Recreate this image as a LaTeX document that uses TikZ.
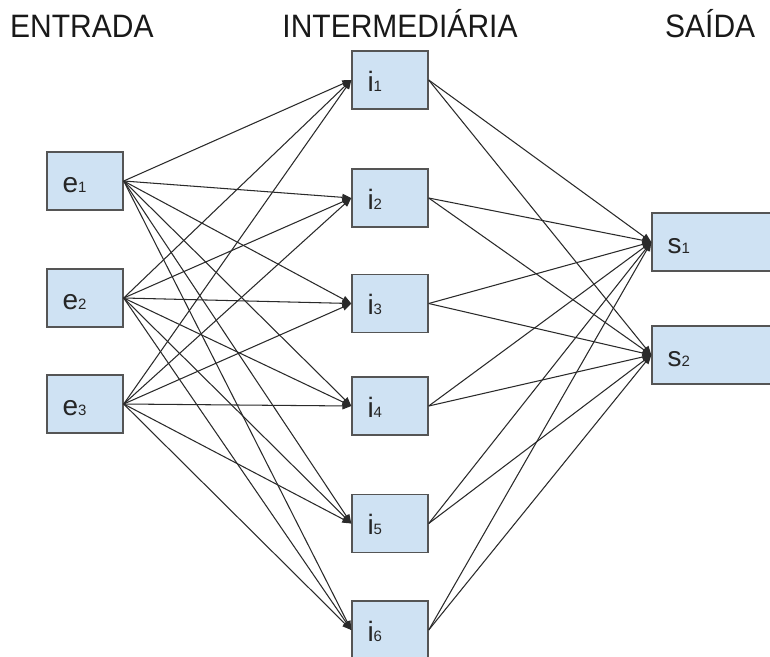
\documentclass[tikz,border=0pt]{standalone}
\usepackage{fontspec}
\setmainfont{Liberation Sans}
\usetikzlibrary{arrows.meta}
\definecolor{boxfill}{HTML}{CFE2F3}
\definecolor{boxline}{HTML}{555555}
\definecolor{edgecol}{HTML}{2A2A2A}
\newcommand\lab[2]{#1{\fontsize{15}{16}\selectfont #2}}
\begin{document}
\begin{tikzpicture}[x=1pt,y=-1pt,
  unit/.style={draw=boxline, fill=boxfill, line width=1.4pt, minimum width=76pt, minimum height=58pt, inner sep=0pt},
  outunit/.style={unit, minimum width=150pt},
  lbl/.style={anchor=base west, inner sep=0pt, font=\fontsize{28}{30}\selectfont, text=black!85},
  head/.style={anchor=base west, inner sep=0pt, font=\fontsize{30}{32}\selectfont, text=black!90, yscale=1.08},
  conn/.style={draw=edgecol, line width=1.05pt, -{Triangle[length=9pt,width=7pt]}}
]
\clip (0,0) rectangle (770,656);
\fill[white] (0,0) rectangle (770,656);
% headers
\node[head] (h1) at (10,37) {ENTRADA};
\node[head, anchor=base] (h2) at (400,37) {INTERMEDIÁRIA};
\node[head] (h3) at (665,37) {SAÍDA};
% input boxes
\node[unit] (e1) at (85,181) {};
\node[unit] (e2) at (85,298) {};
\node[unit] (e3) at (85,404) {};
% hidden boxes
\node[unit] (i1) at (390,80) {};
\node[unit] (i2) at (390,198) {};
\node[unit] (i3) at (390,303.5) {};
\node[unit] (i4) at (390,406) {};
\node[unit] (i5) at (390,523.5) {};
\node[unit] (i6) at (390,630) {};
% output boxes
\node[outunit] (s1) at (727,242) {};
\node[outunit] (s2) at (727,355) {};
% labels
\foreach \n/\t/\d in {e1/e/1,e2/e/2,e3/e/3,i1/i/1,i2/i/2,i3/i/3,i4/i/4,i5/i/5,i6/i/6,s1/s/1,s2/s/2}
  \node[lbl] (l\n) at ([xshift=16pt,yshift=-11pt]\n.west) {\lab{\t}{\d}};
% connectors
\foreach \a in {e1,e2,e3}
  \foreach \b in {i1,i2,i3,i4,i5,i6}
    \draw[conn] (\a.east) -- (\b.west);
\foreach \a in {i1,i2,i3,i4,i5,i6}
  \foreach \b in {s1,s2}
    \draw[conn] (\a.east) -- (\b.west);
\end{tikzpicture}
\end{document}
